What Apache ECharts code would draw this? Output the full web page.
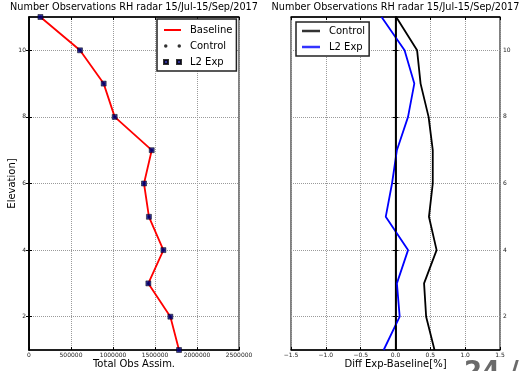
<!DOCTYPE html>
<html><head><meta charset="utf-8">
<script src="https://cdn.jsdelivr.net/npm/echarts@6/dist/echarts.min.js"></script>
<style>html,body{margin:0;padding:0;background:#fff}#c{width:521px;height:371px}</style>
</head><body><div id="c"></div><script>
const elevations = [1, 2, 3, 4, 5, 6, 7, 8, 9, 10, 11];
const baselineObs = [1786000, 1683000, 1421000, 1600000, 1428000, 1369000, 1461000, 1020000, 889000, 607000, 136000];
const controlObs  = [1786000, 1683000, 1421000, 1600000, 1428000, 1369000, 1461000, 1020000, 889000, 607000, 136000];
const l2ExpObs    = [1786000, 1683000, 1421000, 1600000, 1428000, 1369000, 1461000, 1020000, 889000, 607000, 136000];
const controlDiff = [0.56, 0.44, 0.41, 0.59, 0.48, 0.535, 0.535, 0.475, 0.36, 0.31, 0.01];
const l2ExpDiff   = [-0.17, 0.06, 0.02, 0.18, -0.14, -0.05, 0.02, 0.18, 0.27, 0.13, -0.2];
const elevTicks = [2, 4, 6, 8, 10];
const titleText = 'Number Observations RH radar 15/Jul-15/Sep/2017';

const FONT = 'DejaVu Sans';
const pair = (xs) => elevations.map((e, i) => [xs[i], e]);

const gridLine = { show: true, lineStyle: { color: '#9a9a9a', type: [1, 1], width: 1 } };
const tick = { show: true, inside: true, length: 3, lineStyle: { color: '#000', width: 1 } };
const axLine = { show: true, lineStyle: { color: '#000', width: 1.5 } };
const smallLabel = { fontFamily: FONT, fontSize: 6, color: '#222' };

function yAxes(grid, labelSide) {
  const main = {
    type: 'value', gridIndex: grid, min: 1, max: 11, position: labelSide,
    axisLine: axLine,
    axisTick: Object.assign({}, tick, { customValues: elevTicks }),
    axisLabel: Object.assign({ customValues: elevTicks, margin: 3 }, smallLabel),
    splitLine: gridLine
  };
  const other = {
    type: 'value', gridIndex: grid, min: 1, max: 11, position: labelSide === 'left' ? 'right' : 'left',
    axisLine: axLine,
    axisTick: Object.assign({}, tick, { customValues: elevTicks }),
    axisLabel: { show: false }, splitLine: { show: false }
  };
  return [main, other];
}

const option = {
  animation: false,
  backgroundColor: '#fff',
  title: [
    { text: titleText, left: 134, top: 2, textAlign: 'center', padding: 0,
      textStyle: { fontFamily: FONT, fontSize: 9.7, fontWeight: 'normal', color: '#000' } },
    { text: titleText, left: 395.5, top: 2, textAlign: 'center', padding: 0,
      textStyle: { fontFamily: FONT, fontSize: 9.7, fontWeight: 'normal', color: '#000' } }
  ],
  grid: [
    { left: 29, right: 282, top: 17, bottom: 21, show: true, borderColor: '#000', borderWidth: 1,
      containLabel: false, outerBoundsMode: 'none' },
    { left: 291, right: 21, top: 17, bottom: 21, show: true, borderColor: '#000', borderWidth: 1,
      containLabel: false, outerBoundsMode: 'none' }
  ],
  xAxis: [
    { type: 'value', gridIndex: 0, min: 0, max: 2500000, interval: 500000, position: 'bottom',
      name: 'Total Obs Assim.', nameLocation: 'middle', nameGap: 9, nameMoveOverlap: false,
      nameTextStyle: { fontFamily: FONT, fontSize: 10, color: '#000' },
      axisLine: axLine, axisTick: tick,
      axisLabel: Object.assign({ margin: 2, formatter: v => String(v) }, smallLabel), splitLine: gridLine },
    { type: 'value', gridIndex: 1, min: -1.5, max: 1.5, interval: 0.5, position: 'bottom',
      name: 'Diff Exp-Baseline[%]', nameLocation: 'middle', nameGap: 9, nameMoveOverlap: false,
      nameTextStyle: { fontFamily: FONT, fontSize: 10, color: '#000' },
      axisLine: axLine, axisTick: tick,
      axisLabel: Object.assign({ margin: 2, formatter: v => v.toFixed(1).replace('-', '\u2212') }, smallLabel),
      splitLine: gridLine },
    { type: 'value', gridIndex: 0, min: 0, max: 2500000, interval: 500000, position: 'top',
      axisLine: axLine, axisTick: tick, axisLabel: { show: false }, splitLine: { show: false } },
    { type: 'value', gridIndex: 1, min: -1.5, max: 1.5, interval: 0.5, position: 'top',
      axisLine: axLine, axisTick: tick, axisLabel: { show: false }, splitLine: { show: false } }
  ],
  yAxis: [].concat(yAxes(0, 'left'), yAxes(1, 'right')),
  legend: [
    { orient: 'vertical', left: 157, top: 19, padding: [6, 4, 4, 6], itemGap: 6, itemWidth: 17, itemHeight: 5,
      borderColor: '#222', borderWidth: 1.5, backgroundColor: '#fff', borderRadius: 0,
      textStyle: { fontFamily: FONT, fontSize: 10, color: '#000', padding: [0, 0, 0, 4] },
      data: [
        { name: 'Baseline', icon: 'path://M0,0H17V2H0Z' },
        { name: 'Control', icon: 'path://M0,1.75a1.75,1.75 0 1,0 3.5,0a1.75,1.75 0 1,0 -3.5,0Z M13.5,1.75a1.75,1.75 0 1,0 3.5,0a1.75,1.75 0 1,0 -3.5,0Z' },
        { name: 'L2 Exp', icon: 'path://M0,0H4V4H0Z M13,0H17V4H13Z' }
      ] },
    { orient: 'vertical', left: 296, top: 22, padding: [4, 4, 4, 6], itemGap: 6, itemWidth: 18, itemHeight: 5,
      borderColor: '#222', borderWidth: 1.5, backgroundColor: '#fff', borderRadius: 0,
      textStyle: { fontFamily: FONT, fontSize: 10, color: '#000', padding: [0, 0, 0, 4] },
      data: [
        { name: 'Control', icon: 'path://M0,0H18V2.5H0Z', itemStyle: { color: '#000', borderWidth: 0 } },
        { name: 'L2 Exp', icon: 'path://M0,0H18V2.5H0Z', itemStyle: { color: '#0000ff', borderWidth: 0 } }
      ] }
  ],
  series: [
    { name: 'Baseline', type: 'line', xAxisIndex: 0, yAxisIndex: 0, data: pair(baselineObs),
      symbol: 'none', color: '#ff0000', lineStyle: { color: '#ff0000', width: 1.8 }, z: 2 },
    { name: 'Control', type: 'scatter', xAxisIndex: 0, yAxisIndex: 0, data: pair(controlObs),
      symbol: 'circle', symbolSize: 3, itemStyle: { color: '#000' }, z: 3 },
    { name: 'L2 Exp', type: 'scatter', xAxisIndex: 0, yAxisIndex: 0, data: pair(l2ExpObs),
      symbol: 'rect', symbolSize: 5, itemStyle: { color: '#000080', borderColor: '#000', borderWidth: 0.6 }, z: 4 },
    { name: 'Control', type: 'line', xAxisIndex: 1, yAxisIndex: 2, data: pair(controlDiff),
      symbol: 'none', color: '#000', lineStyle: { color: '#000', width: 1.8 }, z: 3,
      markLine: { silent: true, symbol: 'none', label: { show: false },
        lineStyle: { color: '#000', type: 'solid', width: 1.2 }, data: [{ xAxis: 0 }] } },
    { name: 'L2 Exp', type: 'line', xAxisIndex: 1, yAxisIndex: 2, data: pair(l2ExpDiff),
      symbol: 'none', color: '#0000ff', lineStyle: { color: '#0000ff', width: 1.8 }, z: 3 }
  ],
  graphic: [
    { type: 'text', left: 464, top: 360, silent: true,
      style: { text: '24 /', font: 'bold 26px "DejaVu Sans"', fill: '#6a6a6a' } }
  ]
};
option.yAxis[0].name = 'Elevation]';
option.yAxis[0].nameLocation = 'middle';
option.yAxis[0].nameGap = 12;
option.yAxis[0].nameMoveOverlap = false;
option.yAxis[0].nameTextStyle = { fontFamily: FONT, fontSize: 10, color: '#000' };

const chart = echarts.init(document.getElementById('c'), null, { renderer: 'canvas' });
chart.setOption(option);
</script></body></html>
